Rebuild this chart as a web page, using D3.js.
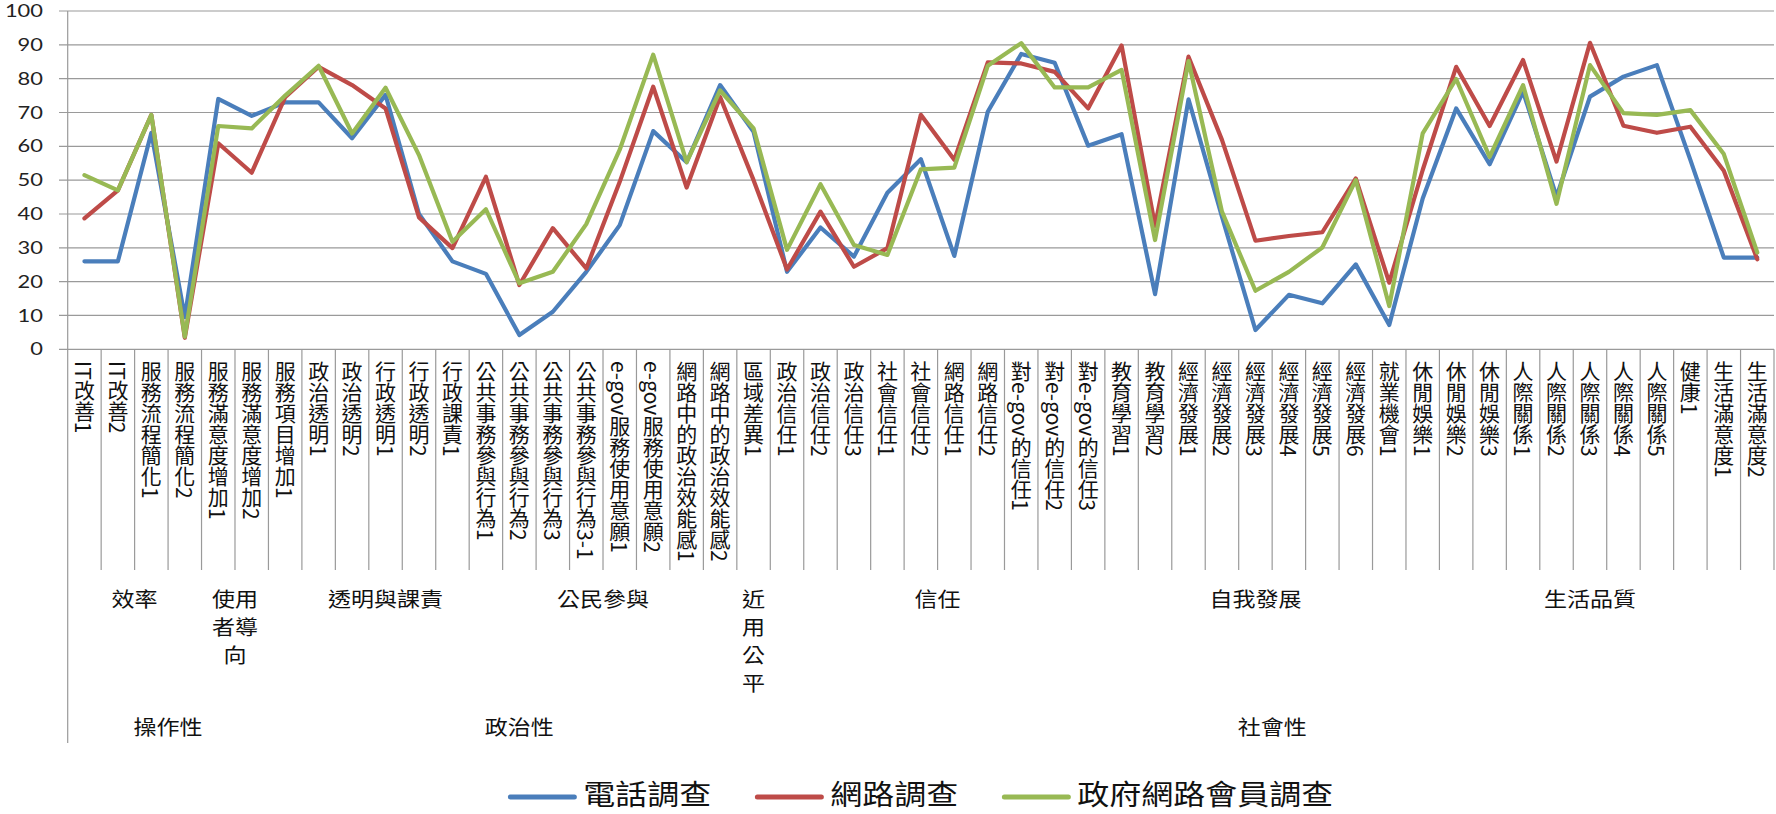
<!DOCTYPE html>
<html>
<head>
<meta charset="utf-8">
<script src="https://cdn.jsdelivr.net/npm/d3@7"></script>
<style>
  html, body { margin: 0; padding: 0; background: #fff; }
  svg { display: block; font-family: "Noto Sans CJK TC", "Noto Sans", sans-serif; }
</style>
</head>
<body>
<div id="chart"></div>
<script>
// categories along the x axis, three levels
let categories = [
  'IT改善1', 'IT改善2', '服務流程簡化1', '服務流程簡化2', '服務滿意度增加1', '服務滿意度增加2',
  '服務項目增加1', '政治透明1', '政治透明2', '行政透明1', '行政透明2', '行政課責1',
  '公共事務參與行為1', '公共事務參與行為2', '公共事務參與行為3', '公共事務參與行為3-1',
  'e-gov服務使用意願1', 'e-gov服務使用意願2', '網路中的政治效能感1', '網路中的政治效能感2',
  '區域差異1', '政治信任1', '政治信任2', '政治信任3', '社會信任1', '社會信任2',
  '網路信任1', '網路信任2', '對e-gov的信任1', '對e-gov的信任2', '對e-gov的信任3',
  '教育學習1', '教育學習2', '經濟發展1', '經濟發展2', '經濟發展3', '經濟發展4',
  '經濟發展5', '經濟發展6', '就業機會1', '休閒娛樂1', '休閒娛樂2', '休閒娛樂3',
  '人際關係1', '人際關係2', '人際關係3', '人際關係4', '人際關係5', '健康1',
  '生活滿意度1', '生活滿意度2'
];
let groupNames = ['效率', '使用者導向', '', '透明與課責', '公民參與', '近用公平', '信任', '自我發展', '生活品質'];
let groupSizes = [4, 2, 1, 5, 8, 1, 10, 9, 11];
let sectorNames = ['操作性', '政治性', '社會性'];
let sectorSizes = [6, 15, 30];

// series values
let seriesNames = ['電話調查', '網路調查', '政府網路會員調查'];
let phoneSurvey = [
  26, 26, 64, 9.5, 74, 69, 73, 73, 62.4, 75.2, 40, 26, 22.3, 4.2, 11.1, 22.9,
  36.7, 64.5, 55.3, 78.1, 64.3, 22.9, 36, 27.4, 46.3, 56.2, 27.6, 70.2, 87.3, 84.7, 60.2,
  63.6, 16.3, 73.9, 39.2, 5.7, 16.1, 13.6, 25.1, 7.2, 44.6, 71.2, 54.7, 76.2, 45.1,
  74.7, 80.6, 84, 56, 27.1, 27.1
];
let webSurvey = [
  38.7, 47, 69.3, 3.4, 60.9, 52.2, 74.5, 83.5, 78.1, 71.2, 39, 29.9, 51, 19, 35.8, 23.9,
  49.5, 77.6, 47.8, 74.6, 50, 23.6, 40.7, 24.4, 29.9, 69.3, 56, 84.8, 84.5, 82, 71.2,
  89.8, 36.5, 86.5, 61.9, 32.1, 33.5, 34.6, 50.5, 19.7, 53, 83.5, 66, 85.5, 55.5,
  90.6, 66.1, 64, 65.8, 52.8, 26.6
];
let memberSurvey = [
  51.5, 47, 69.3, 3.7, 66, 65.3, 75, 83.8, 63.8, 77.3, 57.4, 31.8, 41.4, 19.5, 22.9, 37,
  59, 87.1, 55.3, 76.5, 65.3, 29.4, 48.8, 30.8, 27.9, 53.2, 53.7, 83.8, 90.5, 77.4, 77.4,
  82.6, 32.3, 85.2, 40.7, 17.3, 22.9, 30.1, 50, 12.8, 63.8, 79.9, 56.9, 78.1, 43,
  84, 69.8, 69.3, 70.7, 57.7, 28.6
];
let yTicks = [0, 10, 20, 30, 40, 50, 60, 70, 80, 90, 100];

let seriesColors = ['#4A7EBB', '#BE4B48', '#98B954'];
let gridColor = '#9a9a9a';

let width = 1776;
let height = 814;
let plot = { left: 67.7, right: 1774, top: 11, bottom: 349.3 };
// bottom edges of the three category rows
let rowBottom = [570, 699, 743];

let svg = d3.select('#chart')
  .append('svg')
  .attr('width', width)
  .attr('height', height);

let x = d3.scaleBand()
  .domain(d3.range(categories.length))
  .range([plot.left, plot.right]);

let y = d3.scaleLinear()
  .domain([0, 100])
  .range([plot.bottom, plot.top]);

let cx = i => x(i) + x.bandwidth() / 2;

// gridlines + small ticks on the left
svg.append('g')
  .selectAll('line')
  .data(yTicks)
  .join('line')
  .attr('x1', plot.left - 8.7)
  .attr('x2', plot.right)
  .attr('y1', d => y(d))
  .attr('y2', d => y(d))
  .attr('stroke', gridColor)
  .attr('stroke-width', 1.2);

svg.append('g')
  .selectAll('text')
  .data(yTicks)
  .join('text')
  .attr('x', 43)
  .attr('y', d => y(d))
  .attr('dy', '0.36em')
  .attr('text-anchor', 'end')
  .attr('font-family', 'Lato, "Open Sans", sans-serif')
  .attr('font-size', 17)
  .attr('fill', '#222')
  .attr('textLength', d => String(d).length * 12.7)
  .attr('lengthAdjust', 'spacingAndGlyphs')
  .text(d => d);

// y axis line
svg.append('line')
  .attr('x1', plot.left).attr('x2', plot.left)
  .attr('y1', plot.top).attr('y2', plot.bottom)
  .attr('stroke', gridColor)
  .attr('stroke-width', 1.2);

// boundaries of each level, as category indices
let groupEdges = [0].concat(d3.cumsum(groupSizes));
let sectorEdges = [0].concat(d3.cumsum(sectorSizes));

let boundaries = d3.range(categories.length + 1).map(b => {
  let level = 0;
  if (groupEdges.includes(b)) level = 1;
  if (sectorEdges.includes(b)) level = 2;
  return { b, level };
});

svg.append('g')
  .selectAll('line')
  .data(boundaries)
  .join('line')
  .attr('x1', d => x.step() * d.b + plot.left)
  .attr('x2', d => x.step() * d.b + plot.left)
  .attr('y1', plot.bottom)
  .attr('y2', d => rowBottom[d.level])
  .attr('stroke', gridColor)
  .attr('stroke-width', 1.2);

// category labels, written top to bottom
svg.append('g')
  .selectAll('text')
  .data(categories)
  .join('text')
  .attr('x', (d, i) => cx(i))
  .attr('y', 361)
  .style('writing-mode', 'vertical-rl')
  .attr('font-size', 21)
  .attr('fill', '#111')
  .text(d => d);

// group labels (second row), wrapped to fit their span
let charW = 23;

function spans(sizes) {
  let start = 0;
  return sizes.map(n => {
    let s = { start, n };
    start += n;
    return s;
  });
}

let groups = spans(groupSizes).map((s, i) => Object.assign(s, { name: groupNames[i] }));

groups.forEach(g => {
  if (!g.name) return;
  let x0 = plot.left + x.step() * g.start;
  let w = x.step() * g.n;
  let perLine = Math.max(1, Math.floor((w - 10) / charW));
  let lines = [];
  for (let k = 0; k < g.name.length; k += perLine) lines.push(g.name.slice(k, k + perLine));

  svg.append('g')
    .selectAll('text')
    .data(lines)
    .join('text')
    .attr('x', x0 + w / 2)
    .attr('y', (d, k) => 600 + k * 28)
    .attr('dy', '0.35em')
    .attr('text-anchor', 'middle')
    .attr('font-size', 20)
    .attr('fill', '#111')
    .attr('textLength', d => d.length * charW)
    .attr('lengthAdjust', 'spacingAndGlyphs')
    .text(d => d);
});

// sector labels (third row)
let sectors = spans(sectorSizes).map((s, i) => Object.assign(s, { name: sectorNames[i] }));

svg.append('g')
  .selectAll('text')
  .data(sectors)
  .join('text')
  .attr('x', d => plot.left + x.step() * (d.start + d.n / 2))
  .attr('y', 728)
  .attr('dy', '0.35em')
  .attr('text-anchor', 'middle')
  .attr('font-size', 20)
  .attr('fill', '#111')
  .attr('textLength', d => d.name.length * charW)
  .attr('lengthAdjust', 'spacingAndGlyphs')
  .text(d => d.name);

// the three lines
let allSeries = [phoneSurvey, webSurvey, memberSurvey];

let line = d3.line()
  .x((d, i) => cx(i))
  .y(d => y(d));

svg.append('g')
  .selectAll('path')
  .data(allSeries)
  .join('path')
  .attr('d', line)
  .attr('fill', 'none')
  .attr('stroke', (d, i) => seriesColors[i])
  .attr('stroke-width', 4.2)
  .attr('stroke-linejoin', 'round')
  .attr('stroke-linecap', 'round');

// legend, centred under the plot
let legendCharW = 32;
let swatchW = 68;
let legendGap = 44;
let itemWidths = seriesNames.map(n => swatchW + 7 + n.length * legendCharW);
let legendTotal = d3.sum(itemWidths) + legendGap * (seriesNames.length - 1);
let legendX = (plot.left + plot.right) / 2 - legendTotal / 2;
let legendY = 797;

let offsets = [];
itemWidths.reduce((acc, w) => { offsets.push(acc); return acc + w + legendGap; }, legendX);

let legend = svg.append('g')
  .selectAll('g')
  .data(seriesNames)
  .join('g')
  .attr('transform', (d, i) => `translate(${offsets[i]}, ${legendY})`);

legend.append('line')
  .attr('x1', 2)
  .attr('x2', swatchW - 2)
  .attr('stroke', (d, i) => seriesColors[i])
  .attr('stroke-width', 5)
  .attr('stroke-linecap', 'round');

legend.append('text')
  .attr('x', swatchW + 7)
  .attr('dy', '0.3em')
  .attr('font-size', 28)
  .attr('fill', '#111')
  .attr('textLength', d => d.length * legendCharW)
  .attr('lengthAdjust', 'spacingAndGlyphs')
  .text(d => d);
</script>
</body>
</html>
